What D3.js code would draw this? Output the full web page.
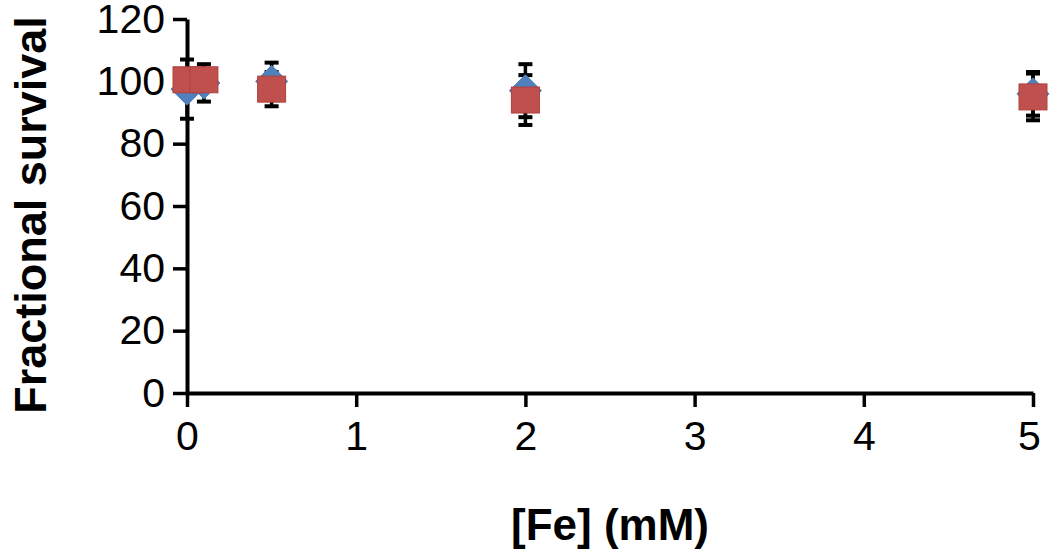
<!DOCTYPE html>
<html><head><meta charset="utf-8">
<script src="https://cdn.jsdelivr.net/npm/d3@7"></script>
<style>body{margin:0;background:#fff}svg{display:block}</style>
</head><body><svg id="c" width="1050" height="556"></svg>
<script>
const xValues = [0, 0.1, 0.5, 2, 5];
const blueValues = [97.5, 99.5, 100, 97, 96];
const blueErrors = [9.5, 6, 6, 8.5, 7];
const redValues = [100.5, 100.5, 97.5, 94, 95];
const redErrors = [3, 3, 5.5, 8, 7.5];
const xTicks = [0, 1, 2, 3, 4, 5];
const yTicks = [0, 20, 40, 60, 80, 100, 120];
const xTitle = "[Fe] (mM)";
const yTitle = "Fractional survival";

const svg = d3.select("#c");
const x = d3.scaleLinear().domain([0, 5]).range([187, 1033]);
const y = d3.scaleLinear().domain([0, 120]).range([393, 19]);
const font = "'Liberation Sans', Arial, sans-serif";

const yAxis = svg.append("g").attr("transform", `translate(${x(0)},0)`)
  .call(d3.axisLeft(y).tickValues(yTicks).tickFormat(d3.format("d")).tickSize(14).tickPadding(8).tickSizeOuter(0));
const xAxis = svg.append("g").attr("transform", `translate(0,${y(0)})`)
  .call(d3.axisBottom(x).tickValues(xTicks).tickFormat(d3.format("d")).tickSize(14).tickPadding(14).tickSizeOuter(0));
[xAxis, yAxis].forEach(g => {
  g.select(".domain").attr("stroke", "#000").attr("stroke-width", 4);
  g.selectAll(".tick line").attr("stroke", "#000").attr("stroke-width", 3.5);
  g.selectAll(".tick text").attr("fill", "#000").style("font-family", font).style("font-size", "41px");
});
xAxis.selectAll(".tick text").filter(d => d === 5).attr("dx", "-4");

const series = [
  {vals: blueValues, errs: blueErrors, shape: "diamond", fill: "#4F81BD", stroke: "#4A7EBB"},
  {vals: redValues, errs: redErrors, shape: "square", fill: "#C0504D", stroke: "#B0403D"}
];
const errG = svg.append("g");
series.forEach(s => {
  xValues.forEach((xv, i) => {
    const cx = x(xv), top = y(s.vals[i] + s.errs[i]), bot = y(s.vals[i] - s.errs[i]);
    errG.append("line").attr("x1", cx).attr("x2", cx).attr("y1", top).attr("y2", bot)
      .attr("stroke", "#000").attr("stroke-width", 3.5);
    [top, bot].forEach(yy => errG.append("line").attr("x1", cx - 7).attr("x2", cx + 7)
      .attr("y1", yy).attr("y2", yy).attr("stroke", "#000").attr("stroke-width", 4));
  });
});
series.forEach(s => {
  const g = svg.append("g");
  xValues.forEach((xv, i) => {
    const cx = x(xv), cy = y(s.vals[i]);
    if (s.shape === "diamond") {
      const r = 16;
      g.append("path").attr("d", `M${cx},${cy - r}L${cx + r},${cy}L${cx},${cy + r}L${cx - r},${cy}Z`)
        .attr("fill", s.fill).attr("stroke", s.stroke).attr("stroke-width", 1);
    } else {
      const h = 14;
      g.append("rect").attr("x", cx - h).attr("y", cy - 13).attr("width", 2 * h).attr("height", 26)
        .attr("fill", s.fill).attr("stroke", s.stroke).attr("stroke-width", 1);
    }
  });
});

svg.append("text").attr("x", 610).attr("y", 540).attr("text-anchor", "middle")
  .style("font-family", font).style("font-weight", "bold").style("font-size", "44px").text(xTitle);
svg.append("text").attr("transform", "translate(46,215) rotate(-90)").attr("text-anchor", "middle")
  .style("font-family", font).style("font-weight", "bold").style("font-size", "45px").text(yTitle);
</script></body></html>
